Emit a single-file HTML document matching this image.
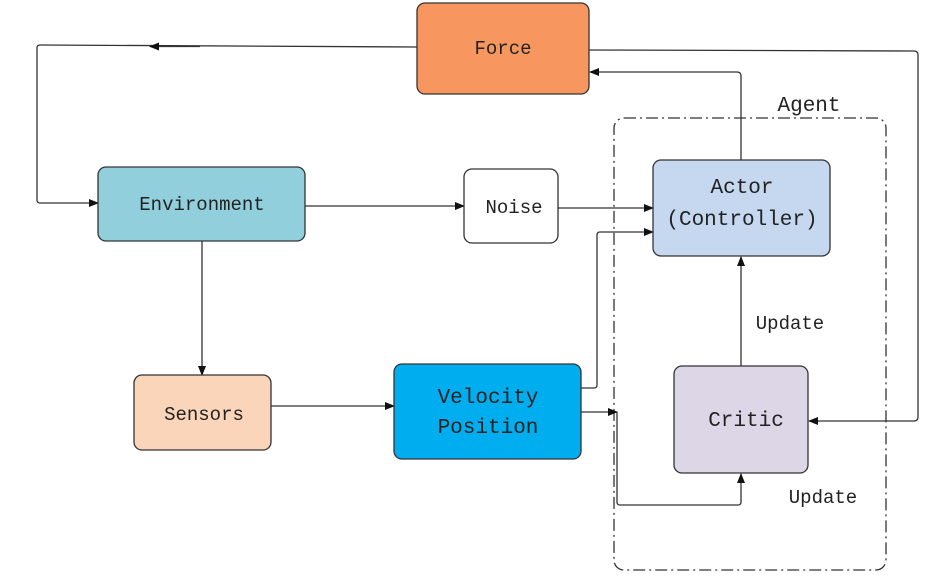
<!DOCTYPE html>
<html><head><meta charset="utf-8"><style>
html,body{margin:0;padding:0;background:#fff;}
svg text{font-family:"Liberation Mono","Noto Sans CJK SC",monospace;fill:#222;}
</style></head><body>
<svg width="952" height="583" viewBox="0 0 952 583" xmlns="http://www.w3.org/2000/svg">
<defs>
<marker id="a" markerWidth="10" markerHeight="8" refX="9" refY="4" orient="auto" markerUnits="userSpaceOnUse">
<path d="M0,0 L10,4 L0,8 z" fill="#111"/></marker>
</defs>
<g fill="none" stroke="#333" stroke-width="1.3">
<!-- agent box -->
<rect x="614" y="118" width="272" height="452" rx="10" stroke="#333" stroke-dasharray="12,4,2,4"/>
<!-- force to env -->
<path d="M417,47 L40,45 Q37,45 37,48 L37,200 Q37,203 40,203 L98,203" marker-end="url(#a)"/>
<path d="M200,46.5 L150,46.5" marker-end="url(#a)"/>
<!-- force to critic -->
<path d="M589,50 L914,51 Q918,51 918,55 L918,417 Q918,421 914,421 L809,421" marker-end="url(#a)"/>
<!-- actor to force -->
<path d="M741,160 L741,76 Q741,72 737,72 L590,72" marker-end="url(#a)"/>
<!-- env to noise -->
<path d="M305,206 L464,206" marker-end="url(#a)"/>
<!-- noise to actor -->
<path d="M558,208 L653,208" marker-end="url(#a)"/>
<!-- velocity to actor -->
<path d="M581,388 L594,388 Q597,388 597,385 L597,235 Q597,232 600,232 L653,232" marker-end="url(#a)"/>
<!-- velocity to critic -->
<path d="M581,412 L617,412" marker-end="url(#a)"/>
<path d="M617,412 L617,502 Q617,505 620,505 L738,505 Q741,505 741,502 L741,474" marker-end="url(#a)"/>
<!-- critic to actor -->
<path d="M741,366 L741,257" marker-end="url(#a)"/>
<!-- env to sensors -->
<path d="M202,241 L202,375" marker-end="url(#a)"/>
<!-- sensors to velocity -->
<path d="M271,406 L394,406" marker-end="url(#a)"/>
</g>
<g stroke="#333" stroke-width="1.3">
<rect x="417" y="3" width="172" height="91" rx="8" fill="#f8965f"/>
<rect x="98" y="167" width="207" height="74" rx="8" fill="#92cfdc"/>
<rect x="464" y="169" width="94" height="74" rx="8" fill="#fff"/>
<rect x="653" y="160" width="177" height="96" rx="8" fill="#c5d8f0"/>
<rect x="134" y="375" width="137" height="75" rx="8" fill="#fbd5b9"/>
<rect x="394" y="364" width="187" height="95" rx="8" fill="#00aeef"/>
<rect x="674" y="366" width="134" height="107" rx="8" fill="#dcd6e6"/>
</g>
<g font-size="19" text-anchor="middle">
<text x="503" y="54">Force</text>
<text x="202" y="210">Environment</text>
<text x="514" y="213">Noise</text>
<text x="742" y="193" font-size="21">Actor</text>
<text x="742" y="225" font-size="21">(Controller)</text>
<text x="204" y="420">Sensors</text>
<text x="488" y="403" font-size="21">Velocity</text>
<text x="488" y="433" font-size="21">Position</text>
<text x="746" y="426" font-size="21">Critic</text>
<text x="809" y="111" font-size="21">Agent</text>
<text x="790" y="329">Update</text>
<text x="823" y="503">Update</text>
</g>
</svg>
</body></html>
